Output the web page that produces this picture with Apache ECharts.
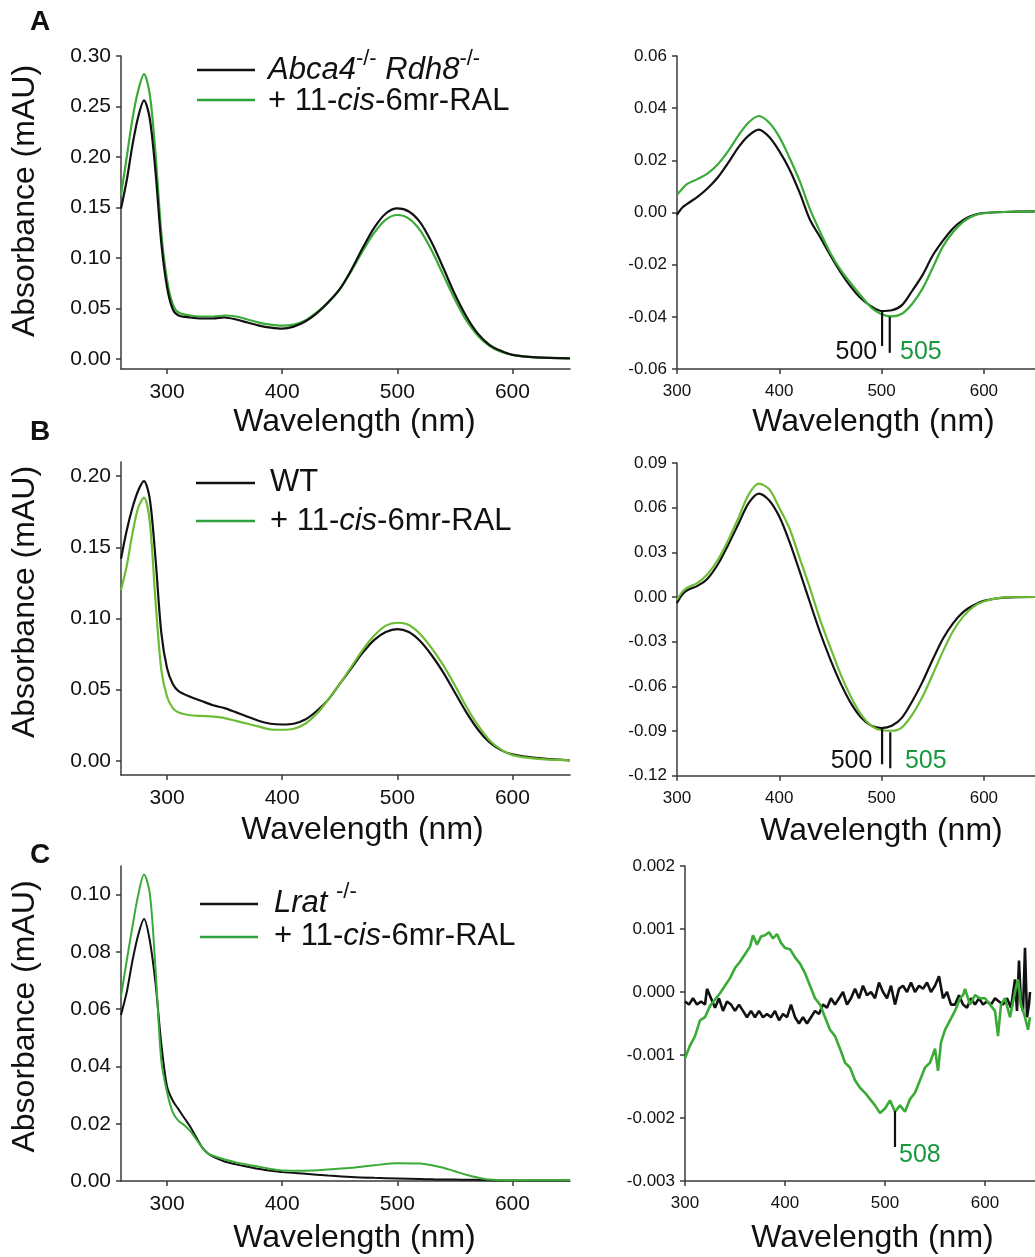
<!DOCTYPE html>
<html><head><meta charset="utf-8">
<script src="https://cdn.jsdelivr.net/npm/echarts@6/dist/echarts.min.js"></script>
<style>html,body{margin:0;padding:0;background:#fff}#c{width:1035px;height:1257px}</style>
</head><body><div id="c"></div><script>
// ---------- data ----------
const wlLeft = [260,265,270,275,280,285,290,295,300,305,310,320,330,340,350,360,370,380,390,400,410,420,430,440,450,460,470,480,490,500,510,520,530,540,550,560,570,580,590,600,620,650];
const absA_mutant = [0.149,0.177,0.212,0.240,0.256,0.238,0.185,0.115,0.071,0.049,0.043,0.041,0.040,0.040,0.041,0.039,0.036,0.033,0.031,0.030,0.032,0.037,0.045,0.056,0.069,0.088,0.110,0.130,0.144,0.149,0.146,0.135,0.115,0.090,0.064,0.042,0.025,0.014,0.008,0.004,0.0015,0.0005];
const absA_treated = [0.162,0.200,0.238,0.266,0.282,0.262,0.203,0.125,0.078,0.054,0.046,0.043,0.042,0.042,0.043,0.042,0.039,0.036,0.034,0.033,0.034,0.038,0.046,0.056,0.069,0.087,0.107,0.125,0.138,0.1425,0.139,0.127,0.107,0.083,0.059,0.038,0.023,0.013,0.007,0.004,0.0015,0.0005];
const absB_wt = [0.142,0.162,0.178,0.190,0.1965,0.184,0.142,0.090,0.065,0.054,0.049,0.045,0.042,0.039,0.037,0.034,0.031,0.028,0.026,0.0255,0.026,0.029,0.035,0.043,0.054,0.065,0.076,0.085,0.0905,0.0926,0.0905,0.084,0.074,0.062,0.048,0.034,0.022,0.013,0.0075,0.0045,0.002,0.0003];
const absB_treated = [0.120,0.137,0.160,0.178,0.185,0.168,0.112,0.064,0.045,0.037,0.034,0.032,0.0315,0.031,0.030,0.028,0.026,0.024,0.022,0.0218,0.0225,0.026,0.033,0.043,0.054,0.066,0.078,0.088,0.095,0.097,0.0955,0.089,0.079,0.067,0.053,0.038,0.025,0.0145,0.008,0.004,0.0015,0.0003];
const wlLeftC = [260,265,270,275,280,285,290,295,300,305,310,315,320,325,330,335,340,350,360,370,380,390,400,420,440,460,480,500,520,530,540,550,560,570,580,600,620,650];
const absC_lrat = [0.058,0.066,0.077,0.086,0.0915,0.084,0.069,0.048,0.033,0.028,0.025,0.022,0.019,0.0155,0.012,0.0098,0.0085,0.0068,0.0058,0.005,0.0042,0.0036,0.0031,0.0025,0.0019,0.0014,0.0011,0.0009,0.0007,0.0006,0.0005,0.0005,0.0004,0.0004,0.0003,0.0002,0.0002,0.0002];
const absC_treated = [0.0645,0.077,0.089,0.100,0.107,0.1005,0.074,0.042,0.031,0.024,0.021,0.0195,0.0175,0.0148,0.012,0.0098,0.0088,0.0075,0.0065,0.0057,0.005,0.0042,0.0037,0.0036,0.004,0.0046,0.0055,0.0062,0.0061,0.0055,0.0046,0.0034,0.0022,0.0012,0.0005,0.0002,0.0003,0.0003];

const wlDiff = [300,305,310,320,330,340,350,360,370,380,390,400,410,420,430,440,450,460,470,480,490,500,510,520,530,540,550,560,570,580,590,600,620,650];
const diffA_mutant = [-0.0009,0.0018,0.0033,0.006,0.0093,0.0135,0.019,0.025,0.0295,0.0318,0.029,0.0235,0.0165,0.0075,-0.0028,-0.0095,-0.0165,-0.023,-0.0285,-0.033,-0.036,-0.0378,-0.0375,-0.0355,-0.030,-0.024,-0.0165,-0.0108,-0.006,-0.0028,-0.001,-0.0002,0.0002,0.0004];
const diffA_treated = [0.0068,0.009,0.011,0.0128,0.015,0.0185,0.0235,0.0295,0.0345,0.037,0.0345,0.029,0.021,0.012,0.0013,-0.0075,-0.0156,-0.022,-0.0272,-0.032,-0.0365,-0.039,-0.0398,-0.0388,-0.035,-0.0292,-0.0212,-0.013,-0.0075,-0.0035,-0.0012,-0.0003,0.0002,0.0004];
const diffB_wt = [-0.004,0.0015,0.0045,0.0075,0.0125,0.022,0.035,0.049,0.063,0.0695,0.065,0.054,0.037,0.017,-0.0037,-0.024,-0.042,-0.058,-0.0713,-0.081,-0.0865,-0.088,-0.0865,-0.081,-0.070,-0.057,-0.042,-0.028,-0.0175,-0.010,-0.0055,-0.0025,-0.0004,0.0];
const diffB_treated = [-0.0018,0.0033,0.0062,0.0095,0.0155,0.025,0.038,0.053,0.0688,0.0762,0.0725,0.060,0.046,0.026,0.006,-0.0155,-0.034,-0.052,-0.067,-0.079,-0.0865,-0.0895,-0.0898,-0.0875,-0.079,-0.067,-0.052,-0.0365,-0.0228,-0.013,-0.0065,-0.003,-0.0003,0.0];

const wlDiffC_treated = [300,305,310,315,320,325,330,335,340,345,350,355,360,365,368,372,376,380,384,388,392,396,400,405,410,415,420,425,430,435,440,445,450,455,460,465,470,475,480,485,490,495,500,505,510,515,520,525,530,535,540,545,550,553,556,560,565,570,575,578,580,585,590,595,600,605,610,613,616,620,625,630,633,636,640,643,645];
const diffC_treated = [-0.00105,-0.00085,-0.0007,-0.00045,-0.0004,-0.00022,-0.00012,-0.00002,0.0001,0.00022,0.00038,0.00048,0.0006,0.00072,0.0009,0.00075,0.00088,0.0009,0.00095,0.00085,0.00092,0.00078,0.0007,0.00068,0.00055,0.00045,0.0003,0.0001,-0.0001,-0.0002,-0.0004,-0.0006,-0.0007,-0.0009,-0.00112,-0.0012,-0.0014,-0.00152,-0.0016,-0.0017,-0.0018,-0.00192,-0.00185,-0.00172,-0.0019,-0.0018,-0.0019,-0.0017,-0.0016,-0.0014,-0.0012,-0.00112,-0.0009,-0.00125,-0.0008,-0.0006,-0.00045,-0.0003,-0.0001,-0.00005,0.00005,-0.0002,-0.00005,-0.0001,-0.0001,-0.0002,-0.0003,-0.0007,-0.0002,-0.0001,-0.0004,0.0,0.0002,-0.0002,-0.0004,-0.0006,-0.0004];
const wlDiffC_lrat = [300,304,308,312,316,320,322,326,330,334,338,342,346,350,354,358,362,366,370,374,378,382,386,390,394,398,402,406,410,414,418,422,426,430,434,438,442,446,450,454,458,462,466,470,474,478,482,486,490,494,498,502,506,510,514,518,522,526,530,534,538,542,546,550,554,558,562,566,570,574,578,582,586,590,594,598,602,606,610,614,618,622,626,630,632,634,636,638,640,642,644,645];
const diffC_lrat = [-0.00015,-0.0002,-0.0001,-0.0002,-0.00015,-0.0002,0.00005,-0.0001,-0.00025,-0.0001,-0.0003,-0.00015,-0.0002,-0.0003,-0.0002,-0.0003,-0.0004,-0.0003,-0.0004,-0.0003,-0.0004,-0.00035,-0.0004,-0.0003,-0.00045,-0.00035,-0.0004,-0.0002,-0.0004,-0.0005,-0.0004,-0.0005,-0.0004,-0.0003,-0.00035,-0.0002,-0.00025,-0.0001,-0.0002,-0.0001,0.0,-0.0002,-0.0001,0.00005,-0.0001,0.0001,-0.00005,0.0,-0.0001,0.00015,0.0,-0.0001,0.0001,-0.0002,0.00005,0.0001,0.0,0.00015,0.0,0.0001,0.00005,0.00015,0.0,0.0001,0.00025,-0.0001,0.0,-0.0002,-0.0002,-0.00005,-0.0002,-0.00025,-0.0001,-0.0002,-0.0001,-0.0002,-0.00015,-0.0002,-0.0001,-0.00015,-0.0002,-0.0001,-0.00025,0.0002,-0.0003,0.0005,-0.0002,-0.0003,0.0007,-0.0004,-0.0002,0.0];

// lambda-max markers: [wavelength, top, bottom]
const markA = [[500.5,-0.038,-0.0512],[508,-0.040,-0.0538]];
const markB = [[500.5,-0.0874,-0.1123],[508.5,-0.0908,-0.115]];
const markC = [[510,-0.00189,-0.00246]];
// lambda-max labels: [wavelength, value, text]
const labA = [[495.8,-0.0535,'500'],[518,-0.0535,'505']];
const labB = [[491,-0.110,'500'],[522.8,-0.110,'505']];
const labC = [[514,-0.00259,'508']];

const xTicks = [300,400,500,600];
const yTicksA = [0,0.05,0.10,0.15,0.20,0.25,0.30];
const yTicksB = [0,0.05,0.10,0.15,0.20];
const yTicksC = [0,0.02,0.04,0.06,0.08,0.10];

// ---------- styling ----------
const FONT = '"Liberation Sans", Arial, Helvetica, sans-serif';
const AX = '#3a3a3a';
const BLACK = '#111111';
const GREEN_A = '#3aab36';
const GREEN_B = '#6cbd34';
const GREEN_LBL = '#18993e';

const zip = (xs, ys) => xs.map((x, i) => [x, ys[i]]);
const fmt = d => v => (Math.abs(v) < 1e-12 ? 0 : v).toFixed(d);

function xAxis(gi, min, max, fs, margin, gap, padL) {
  return {
    gridIndex: gi, type: 'value', min, max,
    axisLine: {onZero: false, lineStyle: {color: AX, width: 1.5}},
    axisTick: {length: 5, customValues: xTicks, lineStyle: {color: AX, width: 1.5}},
    axisLabel: {customValues: xTicks, color: BLACK, fontSize: fs, fontFamily: FONT, margin},
    splitLine: {show: false},
    name: 'Wavelength (nm)', nameLocation: 'middle', nameGap: gap,
    nameTextStyle: {fontSize: 32, fontFamily: FONT, color: BLACK, padding: [0, 0, 0, padL]}
  };
}
function yAxis(gi, min, max, ticks, dec, fs, margin, withName, padL) {
  const a = {
    gridIndex: gi, type: 'value', min, max,
    axisLine: {show: true, lineStyle: {color: AX, width: 1.5}},
    axisTick: {show: true, length: 5, customValues: ticks, lineStyle: {color: AX, width: 1.5}},
    axisLabel: {customValues: ticks, color: BLACK, fontSize: fs, fontFamily: FONT, margin, formatter: fmt(dec)},
    splitLine: {show: false}
  };
  if (withName) {
    a.name = 'Absorbance (mAU)'; a.nameLocation = 'middle'; a.nameGap = 80;
    a.nameTextStyle = {fontSize: 32, fontFamily: FONT, color: BLACK, padding: [0, 0, 0, padL]};
  }
  return a;
}
function rng(a, b, s) { const r = []; for (let v = a; v <= b + 1e-12; v += s) r.push(+v.toFixed(6)); return r; }

function line(idx, data, color, smooth, w, z) {
  return {type: 'line', xAxisIndex: idx, yAxisIndex: idx, data, showSymbol: false, symbol: 'none',
    smooth: smooth, lineStyle: {color, width: w}, z: z || 2, silent: true, animation: false};
}
function marks(idx, arr) {
  return arr.map(m => ({type: 'line', xAxisIndex: idx, yAxisIndex: idx, data: [[m[0], m[1]], [m[0], m[2]]],
    symbol: 'none', lineStyle: {color: BLACK, width: 2.2}, z: 5, silent: true, animation: false}));
}
function labels(idx, arr, colors) {
  return arr.map((l, i) => ({type: 'scatter', xAxisIndex: idx, yAxisIndex: idx, data: [[l[0], l[1]]],
    symbolSize: 0.01, silent: true, animation: false, z: 6,
    itemStyle: {opacity: 1, color: colors[i]},
    label: {show: true, position: i === 0 && arr.length > 1 ? 'left' : 'right', distance: 0, opacity: 1,
      formatter: l[2], fontSize: 25, fontFamily: FONT, color: colors[i]}}));
}

const option = {
  backgroundColor: '#fff',
  animation: false,
  grid: [
    {left: 121, top: 56, width: 449, height: 313},
    {left: 677, top: 56, width: 363, height: 313},
    {left: 121, top: 462, width: 449, height: 313},
    {left: 677, top: 463, width: 363, height: 312.7},
    {left: 121, top: 866, width: 449, height: 315},
    {left: 685, top: 866, width: 357, height: 315}
  ],
  xAxis: [
    xAxis(0, 260, 650, 21, 13, 37, 18),
    xAxis(1, 300, 650, 17, 14, 37, 35),
    xAxis(2, 260, 650, 21, 13, 39, 34),
    xAxis(3, 300, 650, 17, 14, 39, 51),
    xAxis(4, 260, 650, 21, 13, 41, 18),
    xAxis(5, 300, 650, 17, 14, 41, 25)
  ],
  yAxis: [
    yAxis(0, -0.01, 0.30, yTicksA, 2, 21, 10, true, 23),
    yAxis(1, -0.06, 0.06, rng(-0.06, 0.06, 0.02), 2, 17, 10, false),
    yAxis(2, -0.01, 0.21, yTicksB, 2, 21, 10, true, 33),
    yAxis(3, -0.12, 0.09, rng(-0.12, 0.09, 0.03), 2, 17, 10, false),
    yAxis(4, 0, 0.11, yTicksC, 2, 21, 10, true, 14),
    yAxis(5, -0.003, 0.002, rng(-0.003, 0.002, 0.001), 3, 17, 10, false)
  ],
  series: [
    line(0, zip(wlLeft, absA_treated), GREEN_A, 0.3, 2.2, 2),
    line(0, zip(wlLeft, absA_mutant), BLACK, 0.3, 2.2, 3),
    line(1, zip(wlDiff, diffA_mutant), BLACK, 0.3, 2.2, 2),
    line(1, zip(wlDiff, diffA_treated), GREEN_A, 0.3, 2.2, 3),
    line(2, zip(wlLeft, absB_wt), BLACK, 0.3, 2.2, 2),
    line(2, zip(wlLeft, absB_treated), GREEN_B, 0.3, 2.2, 3),
    line(3, zip(wlDiff, diffB_wt), BLACK, 0.3, 2.2, 2),
    line(3, zip(wlDiff, diffB_treated), GREEN_B, 0.3, 2.2, 3),
    line(4, zip(wlLeftC, absC_lrat), BLACK, 0.3, 2, 2),
    line(4, zip(wlLeftC, absC_treated), GREEN_A, 0.3, 2, 3),
    line(5, zip(wlDiffC_lrat, diffC_lrat), BLACK, false, 2.6, 2),
    line(5, zip(wlDiffC_treated, diffC_treated), GREEN_A, false, 2.6, 3),
    ...marks(1, markA), ...labels(1, labA, [BLACK, GREEN_LBL]),
    ...marks(3, markB), ...labels(3, labB, [BLACK, GREEN_LBL]),
    ...marks(5, markC), ...labels(5, labC, [GREEN_LBL])
  ],
  graphic: []
};

// ---------- legends & panel letters ----------
const richBase = {
  n: {fontSize: 31, fontFamily: FONT, fill: BLACK, lineHeight: 44, verticalAlign: 'middle'},
  i: {fontSize: 31, fontFamily: FONT, fill: BLACK, fontStyle: 'italic', lineHeight: 44, verticalAlign: 'middle'},
  s: {fontSize: 22, fontFamily: FONT, fill: BLACK, lineHeight: 14, verticalAlign: 'top'}
};
function legendRow(x1, x2, y, color, tx, ty, text) {
  option.graphic.push({type: 'line', shape: {x1, y1: y, x2, y2: y}, style: {stroke: color, lineWidth: 2.5}, silent: true});
  option.graphic.push({type: 'text', x: tx, y: ty, silent: true,
    style: {text, rich: richBase, verticalAlign: 'middle', align: 'left', font: '31px ' + FONT}});
}
const treatedLabel = '{n|+ 11-}{i|cis}{n|-6mr-RAL}';
legendRow(197, 255, 70, BLACK, 268, 70, '{i|Abca4}{s|-/-}{i| Rdh8}{s|-/-}');
legendRow(197, 255, 100, '#2ca23c', 268, 101, treatedLabel);
legendRow(196, 255, 483, BLACK, 270, 482, '{n|WT}');
legendRow(196, 255, 521, '#2ca23c', 270, 521, treatedLabel);
legendRow(200, 258, 904, BLACK, 274, 903, '{i|Lrat }{s|-/-}');
legendRow(200, 258, 937, '#2ca23c', 274, 936, treatedLabel);

[['A', 22], ['B', 432], ['C', 855]].forEach(p => {
  option.graphic.push({type: 'text', x: 40, y: p[1], silent: true,
    style: {text: p[0], font: 'bold 28px ' + FONT, fill: BLACK, align: 'center', verticalAlign: 'middle'}});
});

const chart = echarts.init(document.getElementById('c'), null, {renderer: 'canvas'});
chart.setOption(option);
</script></body></html>
